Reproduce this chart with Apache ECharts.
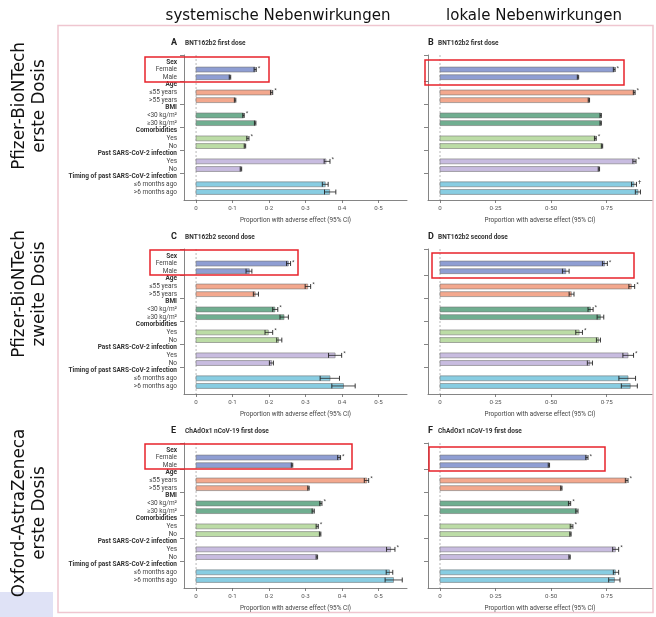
<!DOCTYPE html>
<html><head><meta charset="utf-8">
<script src="https://cdn.jsdelivr.net/npm/echarts@6/dist/echarts.min.js"></script>
<style>html,body{margin:0;padding:0;background:#fff}#c{width:656px;height:617px}</style>
</head><body><div id="c"></div>
<script>
// ---------- data ----------
const rowLabels = ['Sex','Female','Male','Age','≤55 years','>55 years','BMI','<30 kg/m²','≥30 kg/m²','Comorbidities','Yes','No','Past SARS-CoV-2 infection','Yes','No','Timing of past SARS-CoV-2 infection','≤6 months ago','>6 months ago'];
const headerRows = [0,3,6,9,12,15];
const itemRows = [1,2,4,5,7,8,10,11,13,14,16,17];
const groupColors = ['#8f9ed3','#f3a88e','#70ae90','#bcdca6','#c8bce0','#88cde2'];

const columnTitles = ['systemische Nebenwirkungen','lokale Nebenwirkungen'];
const rowTitles = ['Pfizer-BioNTech\nerste Dosis','Pfizer-BioNTech\nzweite Dosis','Oxford-AstraZeneca\nerste Dosis'];
const panelLetters = ['A','B','C','D','E','F'];
const panelTitles = ['BNT162b2 first dose','BNT162b2 first dose','BNT162b2 second dose','BNT162b2 second dose','ChAdOx1 nCoV-19 first dose','ChAdOx1 nCoV-19 first dose'];
const xAxisName = 'Proportion with adverse effect (95% CI)';
const sysTicks = [0,0.1,0.2,0.3,0.4,0.5];
const locTicks = [0,0.25,0.5,0.75];

// A: BNT162b2 first dose, systemic
const aEst  = [0.162,0.093,0.207,0.107,0.130,0.162,0.142,0.134,0.356,0.123,0.354,0.366];
const aLow  = [0.159,0.091,0.204,0.105,0.128,0.160,0.139,0.132,0.351,0.121,0.346,0.352];
const aHigh = [0.165,0.095,0.210,0.109,0.132,0.164,0.145,0.136,0.367,0.125,0.362,0.383];
const aMark = ['*','','*','','*','','*','','*','','',''];
// B: BNT162b2 first dose, local
const bEst  = [0.784,0.621,0.874,0.670,0.723,0.723,0.699,0.729,0.877,0.715,0.873,0.891];
const bLow  = [0.780,0.618,0.870,0.667,0.720,0.720,0.695,0.726,0.868,0.712,0.862,0.879];
const bHigh = [0.788,0.624,0.878,0.673,0.726,0.726,0.703,0.732,0.882,0.718,0.884,0.902];
const bMark = ['*','','*','','','','*','','*','','†',''];
// C: BNT162b2 second dose, systemic
const cEst  = [0.253,0.146,0.306,0.162,0.216,0.241,0.198,0.226,0.381,0.207,0.367,0.404];
const cLow  = [0.248,0.137,0.299,0.157,0.210,0.230,0.189,0.221,0.363,0.201,0.340,0.372];
const cHigh = [0.259,0.153,0.314,0.171,0.224,0.253,0.210,0.235,0.399,0.212,0.393,0.436];
const cMark = ['*','','*','','*','','*','','*','','',''];
// D: BNT162b2 second dose, local
const dEst  = [0.741,0.566,0.861,0.591,0.677,0.722,0.626,0.713,0.846,0.674,0.846,0.856];
const dLow  = [0.731,0.551,0.850,0.581,0.666,0.707,0.611,0.704,0.823,0.663,0.805,0.816];
const dHigh = [0.753,0.581,0.876,0.603,0.689,0.737,0.641,0.722,0.871,0.686,0.880,0.888];
const dMark = ['*','','*','','*','','*','','*','','',''];
// E: ChAdOx1 first dose, systemic
const eEst  = [0.393,0.263,0.468,0.308,0.342,0.321,0.332,0.340,0.533,0.331,0.530,0.541];
const eLow  = [0.388,0.261,0.461,0.306,0.339,0.318,0.329,0.338,0.522,0.329,0.521,0.518];
const eHigh = [0.396,0.265,0.473,0.310,0.345,0.324,0.335,0.342,0.545,0.333,0.539,0.565];
const eMark = ['*','','*','','*','','*','','*','','',''];
// F: ChAdOx1 first dose, local
const fEst  = [0.661,0.490,0.840,0.546,0.583,0.616,0.592,0.587,0.789,0.583,0.789,0.785];
const fLow  = [0.656,0.487,0.834,0.543,0.578,0.611,0.586,0.584,0.777,0.580,0.780,0.759];
const fHigh = [0.666,0.493,0.846,0.549,0.588,0.621,0.598,0.590,0.804,0.586,0.804,0.810];
const fMark = ['*','','*','','*','','*','','*','','',''];

const panels = [
  [aEst,aLow,aHigh,aMark],[bEst,bLow,bHigh,bMark],
  [cEst,cLow,cHigh,cMark],[dEst,dLow,dHigh,dMark],
  [eEst,eLow,eHigh,eMark],[fEst,fLow,fHigh,fMark]
];

// ---------- layout ----------
const FONT = "Roboto, 'Liberation Sans', sans-serif";
const BIG = "'DejaVu Sans', sans-serif";
const colLeft = [184, 428], colWidth = [223, 224];
const colMin = [-0.033, -0.054], colMax = [0.578, 0.954];
const rowTop = [55, 249, 443], gridH = 145;
const yMin = -0.9, yMax = 18.05;

const grids = [], xAxes = [], yAxes = [], series = [], graphics = [];

function fmtTick(col) {
  return v => v === 0 ? '0' : (col === 0 ? v.toFixed(1) : v.toFixed(2)).replace('.', '·');
}

panels.forEach((p, i) => {
  const col = i % 2, row = Math.floor(i / 2);
  const [est, low, high, mark] = p;
  grids.push({left: colLeft[col], top: rowTop[row], width: colWidth[col], height: gridH});
  const ticks = col === 0 ? sysTicks : locTicks;
  xAxes.push({
    type: 'value', gridIndex: i, min: colMin[col], max: colMax[col],
    splitLine: {show: false},
    axisLine: {onZero: false, lineStyle: {color: '#666', width: 0.8}},
    axisTick: {customValues: ticks, length: 3, lineStyle: {color: '#666', width: 0.8}},
    axisLabel: {customValues: ticks, formatter: fmtTick(col), fontSize: 6.2, color: '#555', margin: 5, fontFamily: FONT},
    name: xAxisName, nameLocation: 'middle', nameGap: 17,
    nameTextStyle: {fontSize: 6.4, color: '#444', fontFamily: FONT}
  });
  yAxes.push({
    type: 'value', gridIndex: i, inverse: true, min: yMin, max: yMax,
    splitLine: {show: false},
    axisLine: {show: true, onZero: false, lineStyle: {color: '#666', width: 0.8}},
    axisTick: {show: true, customValues: [yMin, 2.5, 5.5, 8.5, 11.5, 14.5], length: 4, lineStyle: {color: '#666', width: 0.8}},
    axisLabel: col === 0 ? {
      show: true, customValues: rowLabels.map((_, k) => k), margin: 7,
      formatter: v => (headerRows.indexOf(v) >= 0 ? '{h|' : '{n|') + rowLabels[v] + '}',
      rich: {
        h: {fontSize: 6.5, fontWeight: 'bold', color: '#333', fontFamily: FONT},
        n: {fontSize: 6.5, color: '#444', fontFamily: FONT}
      }
    } : {show: false}
  });
  // dashed zero reference
  series.push({
    type: 'line', xAxisIndex: i, yAxisIndex: i, data: [[0, yMin], [0, yMax]],
    symbol: 'none', silent: true, z: 1,
    lineStyle: {color: '#999', width: 0.7, type: [2, 2]}
  });
  series.push({
    type: 'custom', xAxisIndex: i, yAxisIndex: i, z: 3,
    data: est.map((v, k) => [v, itemRows[k], low[k], high[k], k]),
    renderItem: (params, api) => {
      const v = api.value(0), r = api.value(1), lo = api.value(2), hi = api.value(3), k = api.value(4);
      const p0 = api.coord([0, r]), p1 = api.coord([v, r]);
      const pl = api.coord([lo, r]), ph = api.coord([hi, r]);
      const h = api.size([0, 1])[1] * 0.64;
      const children = [
        {type: 'rect', shape: {x: p0[0], y: p0[1] - h / 2, width: p1[0] - p0[0], height: h},
         style: {fill: groupColors[Math.floor(k / 2)], stroke: '#777', lineWidth: 0.6}},
        {type: 'line', shape: {x1: pl[0], y1: pl[1], x2: ph[0], y2: ph[1]}, style: {stroke: '#222', lineWidth: 0.8}},
        {type: 'line', shape: {x1: pl[0], y1: pl[1] - h / 2, x2: pl[0], y2: pl[1] + h / 2}, style: {stroke: '#222', lineWidth: 0.9}},
        {type: 'line', shape: {x1: ph[0], y1: ph[1] - h / 2, x2: ph[0], y2: ph[1] + h / 2}, style: {stroke: '#222', lineWidth: 0.9}}
      ];
      if (mark[k]) {
        children.push({type: 'text', x: ph[0] + 1.5, y: ph[1] - 1.5,
          style: {text: mark[k], fontSize: 6, fill: '#333', fontFamily: FONT, align: 'left', verticalAlign: 'middle'}});
      }
      return {type: 'group', children};
    }
  });
  // panel title
  const lx = col === 0 ? 171 : 428;
  graphics.push({type: 'text', x: lx, y: rowTop[row] - 12,
    style: {text: panelLetters[i], fontSize: 9, fontWeight: 'bold', fill: '#222', fontFamily: FONT, verticalAlign: 'middle'}});
  graphics.push({type: 'text', x: lx + (col === 0 ? 14 : 10), y: rowTop[row] - 12,
    style: {text: panelTitles[i], fontSize: 6.5, fontWeight: 'bold', fill: '#333', fontFamily: FONT, verticalAlign: 'middle'}});
});

// frame, highlight boxes, headers
graphics.push({type: 'rect', shape: {x: 0, y: 592, width: 53, height: 25}, style: {fill: '#dfe2f6'}, z: -1});
graphics.push({type: 'rect', shape: {x: 58, y: 25.5, width: 595, height: 587}, style: {fill: 'none', stroke: '#efc6d0', lineWidth: 1.5}});
const redBoxes = [[145,57,124,25],[425,60,199,25],[150,250,148,25],[432,253,202,25],[145,444,207,25],[429,447,176,24]];
redBoxes.forEach(b => graphics.push({type: 'rect', shape: {x: b[0], y: b[1], width: b[2], height: b[3]},
  style: {fill: 'none', stroke: '#e8232b', lineWidth: 1.5}, z: 10}));
graphics.push({type: 'text', x: 278, y: 16, style: {text: columnTitles[0], fontSize: 15, fill: '#111', fontFamily: BIG, align: 'center', verticalAlign: 'middle'}});
graphics.push({type: 'text', x: 534, y: 16, style: {text: columnTitles[1], fontSize: 15, fill: '#111', fontFamily: BIG, align: 'center', verticalAlign: 'middle'}});
const rowCenters = [106, 294, 513];
rowTitles.forEach((t, r) => graphics.push({type: 'text', x: 30, y: rowCenters[r], rotation: Math.PI / 2,
  style: {text: t, fontSize: 16.8, lineHeight: 20, fill: '#111', fontFamily: BIG, align: 'center', verticalAlign: 'middle'}}));

const chart = echarts.init(document.getElementById('c'));
chart.setOption({
  animation: false,
  grid: grids, xAxis: xAxes, yAxis: yAxes, series: series,
  graphic: graphics
});
</script></body></html>
